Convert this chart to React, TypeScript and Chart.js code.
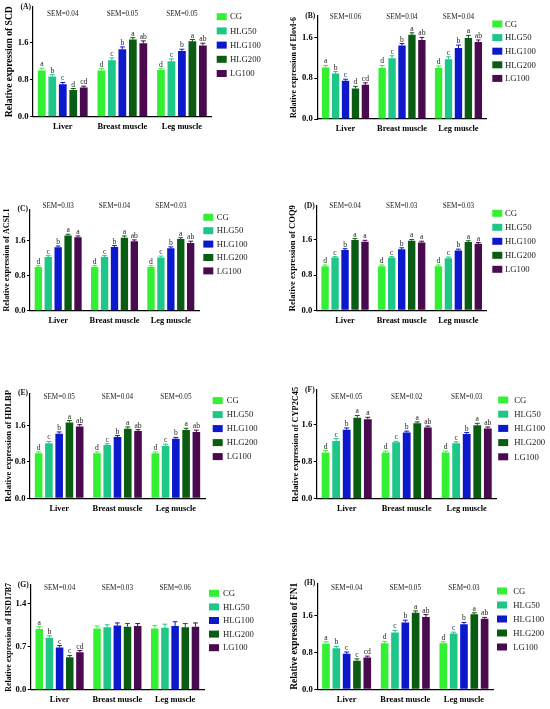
import React, { useEffect, useRef } from "react";
import { Chart, registerables } from "chart.js";

Chart.register(...registerables);

// ---------------- DATA ----------------
const categories = ["Liver", "Breast muscle", "Leg muscle"];
const groups = ["CG", "HLG50", "HLG100", "HLG200", "LG100"];

// rows = groups (CG, HLG50, HLG100, HLG200, LG100); columns = categories
const scdValues = [
  [1.0, 1.0, 1.01],
  [0.87, 1.22, 1.2],
  [0.7, 1.46, 1.42],
  [0.58, 1.67, 1.63],
  [0.63, 1.59, 1.54],
];
const scdErrors = [
  [0.05, 0.04, 0.03],
  [0.04, 0.05, 0.05],
  [0.04, 0.05, 0.04],
  [0.03, 0.04, 0.04],
  [0.03, 0.05, 0.05],
];
const scdLetters = [
  ["a", "d", "d"],
  ["b", "c", "c"],
  ["c", "b", "b"],
  ["d", "a", "a"],
  ["cd", "ab", "ab"],
];
const scdSem = ["0.04", "0.05", "0.05"];

const elovlValues = [
  [1.01, 1.0, 1.0],
  [0.89, 1.19, 1.17],
  [0.75, 1.44, 1.39],
  [0.6, 1.65, 1.59],
  [0.67, 1.55, 1.51],
];
const elovlErrors = [
  [0.04, 0.05, 0.04],
  [0.04, 0.05, 0.05],
  [0.03, 0.04, 0.06],
  [0.04, 0.04, 0.05],
  [0.04, 0.05, 0.04],
];
const elovlLetters = [
  ["a", "d", "d"],
  ["b", "c", "c"],
  ["c", "b", "b"],
  ["d", "a", "a"],
  ["cd", "ab", "ab"],
];
const elovlSem = ["0.06", "0.04", "0.04"];

const acslValues = [
  [1.0, 1.0, 1.0],
  [1.23, 1.23, 1.22],
  [1.45, 1.46, 1.43],
  [1.72, 1.67, 1.64],
  [1.68, 1.59, 1.55],
];
const acslErrors = [
  [0.03, 0.03, 0.03],
  [0.03, 0.03, 0.03],
  [0.03, 0.03, 0.03],
  [0.03, 0.04, 0.03],
  [0.03, 0.03, 0.04],
];
const acslLetters = [
  ["d", "d", "d"],
  ["c", "c", "c"],
  ["b", "b", "b"],
  ["a", "a", "a"],
  ["a", "ab", "ab"],
];
const acslSem = ["0.03", "0.04", "0.03"];

const coq9Values = [
  [1.0, 1.0, 1.0],
  [1.2, 1.2, 1.18],
  [1.37, 1.39, 1.36],
  [1.6, 1.58, 1.55],
  [1.56, 1.54, 1.51],
];
const coq9Errors = [
  [0.03, 0.03, 0.03],
  [0.02, 0.02, 0.03],
  [0.03, 0.03, 0.03],
  [0.03, 0.03, 0.03],
  [0.03, 0.03, 0.03],
];
const coq9Letters = [
  ["d", "d", "d"],
  ["c", "c", "c"],
  ["b", "b", "b"],
  ["a", "a", "a"],
  ["a", "a", "a"],
];
const coq9Sem = ["0.04", "0.03", "0.03"];

const hdlbpValues = [
  [0.99, 0.99, 0.99],
  [1.21, 1.17, 1.15],
  [1.42, 1.35, 1.31],
  [1.67, 1.53, 1.5],
  [1.58, 1.48, 1.46],
];
const hdlbpErrors = [
  [0.03, 0.03, 0.03],
  [0.04, 0.03, 0.04],
  [0.04, 0.03, 0.03],
  [0.04, 0.04, 0.04],
  [0.04, 0.03, 0.04],
];
const hdlbpLetters = [
  ["d", "d", "d"],
  ["c", "c", "c"],
  ["b", "b", "b"],
  ["a", "a", "a"],
  ["ab", "ab", "ab"],
];
const hdlbpSem = ["0.05", "0.04", "0.05"];

const cypValues = [
  [1.0, 1.0, 1.0],
  [1.25, 1.22, 1.2],
  [1.49, 1.43, 1.4],
  [1.75, 1.63, 1.59],
  [1.72, 1.54, 1.52],
];
const cypErrors = [
  [0.04, 0.03, 0.03],
  [0.05, 0.02, 0.03],
  [0.04, 0.03, 0.03],
  [0.05, 0.03, 0.04],
  [0.04, 0.03, 0.03],
];
const cypLetters = [
  ["d", "d", "d"],
  ["c", "c", "c"],
  ["b", "b", "b"],
  ["a", "a", "a"],
  ["a", "ab", "ab"],
];
const cypSem = ["0.05", "0.02", "0.03"];

const hsdValues = [
  [0.99, 1.0, 1.0],
  [0.85, 1.02, 1.01],
  [0.69, 1.05, 1.04],
  [0.53, 1.03, 1.02],
  [0.61, 1.04, 1.03],
];
const hsdErrors = [
  [0.04, 0.04, 0.05],
  [0.03, 0.04, 0.06],
  [0.03, 0.04, 0.07],
  [0.03, 0.05, 0.06],
  [0.03, 0.04, 0.06],
];
const hsdLetters = [
  ["a", "", ""],
  ["b", "", ""],
  ["c", "", ""],
  ["c", "", ""],
  ["cd", "", ""],
];
const hsdSem = ["0.04", "0.03", "0.06"];

const fn1Values = [
  [0.99, 1.0, 1.0],
  [0.89, 1.23, 1.21],
  [0.77, 1.45, 1.41],
  [0.62, 1.66, 1.63],
  [0.69, 1.57, 1.53],
];
const fn1Errors = [
  [0.04, 0.04, 0.03],
  [0.04, 0.05, 0.03],
  [0.04, 0.05, 0.04],
  [0.04, 0.04, 0.03],
  [0.03, 0.05, 0.03],
];
const fn1Letters = [
  ["a", "d", "d"],
  ["b", "c", "c"],
  ["c", "b", "b"],
  ["c", "a", "a"],
  ["cd", "ab", "ab"],
];
const fn1Sem = ["0.04", "0.05", "0.03"];

const ticks08 = [0, 0.8, 1.6];
const ticks07 = [0, 0.7, 1.4];

// ---------------- STYLE / LAYOUT ----------------
const groupColors = ["#33f033", "#1ec688", "#0c18cc", "#0a5c12", "#4a0a50"];
const FONT = "'Liberation Serif', 'Times New Roman', serif";
const ROW_TOP = [0, 170, 340, 525];
const ROW_H = [170, 170, 185, 184];
const COL_W = 275;

type Panel = {
  id: string;
  gene: string;
  values: number[][];
  errors: number[][];
  letters: string[][];
  sem: string[];
  ticks: number[];
  max: number;
  row: number;
  col: number;
  left: number;
  top: number;
  right: number;
  bottom: number;
  titleX: number;
  titleSize: number;
  semDY: number;
  legBoxDX: number;
  legTextDX: number;
  legDY: number;
  legGap: number;
};

const panels: Panel[] = [
  { id: "A", gene: "SCD", values: scdValues, errors: scdErrors, letters: scdLetters, sem: scdSem, ticks: ticks08, max: 2.38,
    row: 0, col: 0, left: 33, top: 6.7, right: 211.7, bottom: 116.7, titleX: 10, titleSize: 9.6,
    semDY: 7.3, legBoxDX: 5, legTextDX: 18.3, legDY: 10, legGap: 14.2 },
  { id: "B", gene: "Elovl-6", values: elovlValues, errors: elovlErrors, letters: elovlLetters, sem: elovlSem, ticks: ticks08, max: 2.02,
    row: 0, col: 1, left: 42.3, top: 16, right: 211.7, bottom: 119, titleX: 19, titleSize: 8,
    semDY: 1, legBoxDX: 5.6, legTextDX: 18.3, legDY: 8, legGap: 13.6 },
  { id: "C", gene: "ACSL1", values: acslValues, errors: acslErrors, letters: acslLetters, sem: acslSem, ticks: ticks08, max: 2.32,
    row: 1, col: 0, left: 30, top: 39.3, right: 199, bottom: 140.7, titleX: 7, titleSize: 8.1,
    semDY: -3, legBoxDX: 4.3, legTextDX: 17.7, legDY: 8, legGap: 13.4 },
  { id: "D", gene: "COQ9", values: coq9Values, errors: coq9Errors, letters: coq9Letters, sem: coq9Sem, ticks: ticks08, max: 2.37,
    row: 1, col: 1, left: 41.7, top: 36, right: 211.7, bottom: 140.3, titleX: 18, titleSize: 8.6,
    semDY: 0, legBoxDX: 5.6, legTextDX: 18.3, legDY: 7.3, legGap: 14 },
  { id: "E", gene: "HDLBP", values: hdlbpValues, errors: hdlbpErrors, letters: hdlbpLetters, sem: hdlbpSem, ticks: ticks08, max: 2.31,
    row: 2, col: 0, left: 30, top: 53.3, right: 205, bottom: 158.3, titleX: 9, titleSize: 8.6,
    semDY: 4, legBoxDX: 7.7, legTextDX: 21.7, legDY: 7.3, legGap: 14 },
  { id: "F", gene: "CYP2C45", values: cypValues, errors: cypErrors, letters: cypLetters, sem: cypSem, ticks: ticks08, max: 2.35,
    row: 2, col: 1, left: 41.7, top: 50, right: 221.7, bottom: 158.7, titleX: 21, titleSize: 8.3,
    semDY: 7.3, legBoxDX: 1.5, legTextDX: 17.5, legDY: 10, legGap: 14.2 },
  { id: "G", gene: "HSD17B7", values: hsdValues, errors: hsdErrors, letters: hsdLetters, sem: hsdSem, ticks: ticks07, max: 1.71,
    row: 3, col: 0, left: 30.7, top: 60, right: 204, bottom: 164.7, titleX: 9, titleSize: 7.9,
    semDY: 3.3, legBoxDX: 5, legTextDX: 19, legDY: 8.3, legGap: 13.6 },
  { id: "H", gene: "FN1", values: fn1Values, errors: fn1Errors, letters: fn1Letters, sem: fn1Sem, ticks: ticks08, max: 2.3,
    row: 3, col: 1, left: 42.3, top: 58.3, right: 218.3, bottom: 164.3, titleX: 20, titleSize: 9.4,
    semDY: 5, legBoxDX: 3.7, legTextDX: 20, legDY: 7.7, legGap: 14 },
];

function buildChart(canvas: HTMLCanvasElement, p: Panel) {
  const height = ROW_H[p.row];
  const padL = p.titleX - p.titleSize / 2;

  const decor = {
    id: "decor" + p.id,
    afterDatasetsDraw(chart: any) {
      const ctx = chart.ctx as CanvasRenderingContext2D;
      const ys = chart.scales.y;
      const xs = chart.scales.x;
      const area = chart.chartArea;
      ctx.save();
      // error bars + letters
      groups.forEach((_, gi) => {
        const meta = chart.getDatasetMeta(gi);
        meta.data.forEach((bar: any, ci: number) => {
          const v = p.values[gi][ci];
          const e = p.errors[gi][ci];
          const x = bar.x;
          const yv = ys.getPixelForValue(v);
          const ye = ys.getPixelForValue(v + e);
          const hw = bar.width * 0.32;
          ctx.strokeStyle = groupColors[gi];
          ctx.lineWidth = 1;
          ctx.beginPath();
          ctx.moveTo(x, yv);
          ctx.lineTo(x, ye);
          ctx.moveTo(x - hw, ye);
          ctx.lineTo(x + hw, ye);
          ctx.stroke();
          const letter = p.letters[gi][ci];
          if (letter) {
            ctx.fillStyle = "#222";
            ctx.font = `7.6px ${FONT}`;
            ctx.textAlign = "center";
            ctx.textBaseline = "alphabetic";
            ctx.fillText(letter, x, ye - 2);
          }
        });
      });
      // SEM labels
      ctx.fillStyle = "#222";
      ctx.font = `7.2px ${FONT}`;
      ctx.textAlign = "center";
      ctx.textBaseline = "middle";
      p.sem.forEach((s, ci) => {
        ctx.fillText("SEM=" + s, xs.getPixelForValue(ci), area.top + p.semDY);
      });
      // panel letter
      ctx.fillStyle = "#111";
      ctx.font = `bold 7.6px ${FONT}`;
      ctx.textAlign = "right";
      ctx.textBaseline = "middle";
      ctx.fillText("(" + p.id + ")", area.left - 2, area.top);
      // legend
      ctx.font = `8.7px ${FONT}`;
      ctx.textAlign = "left";
      groups.forEach((g, gi) => {
        const cy = area.top + p.legDY + gi * p.legGap;
        ctx.fillStyle = groupColors[gi];
        ctx.fillRect(area.right + p.legBoxDX, cy - 3.5, 10, 7);
        ctx.fillStyle = "#222";
        ctx.fillText(g, area.right + p.legTextDX, cy + 0.5);
      });
      ctx.restore();
    },
  };

  return new Chart(canvas, {
    type: "bar",
    data: {
      labels: categories,
      datasets: groups.map((g, gi) => ({
        label: g,
        data: p.values[gi],
        backgroundColor: groupColors[gi],
        borderWidth: 0,
        categoryPercentage: 0.88,
        barPercentage: 0.74,
      })),
    },
    options: {
      animation: false,
      responsive: false,
      maintainAspectRatio: false,
      events: [],
      layout: { padding: { left: padL, top: p.top, right: COL_W - p.right, bottom: 0 } },
      plugins: { legend: { display: false }, tooltip: { enabled: false } },
      scales: {
        x: {
          grid: { display: true, drawOnChartArea: false, drawTicks: false },
          border: { display: true, color: "#000", width: 1.2 },
          ticks: { color: "#000", padding: 5, font: { family: FONT, size: 8.4, weight: "bold" } },
          afterFit: (s: any) => {
            s.height = height - p.bottom;
          },
        },
        y: {
          min: 0,
          max: p.max,
          afterBuildTicks: (s: any) => {
            s.ticks = p.ticks.map((v) => ({ value: v }));
          },
          grid: { display: true, drawOnChartArea: false, drawTicks: true, tickLength: 3, color: "#000", lineWidth: 1 },
          border: { display: true, color: "#000", width: 1.2 },
          ticks: {
            color: "#000",
            padding: 1.5,
            font: { family: FONT, size: 8.6, weight: "bold" },
            callback: (v: any) => Number(v).toFixed(1),
          },
          title: {
            display: true,
            text: "Relative expression of " + p.gene,
            color: "#000",
            padding: 0,
            font: { family: FONT, size: p.titleSize, weight: "bold", lineHeight: 1 },
          },
          afterFit: (s: any) => {
            s.width = p.left - padL;
          },
        },
      },
    },
    plugins: [decor],
  } as any);
}

function PanelChart({ p }: { p: Panel }) {
  const ref = useRef<HTMLCanvasElement | null>(null);
  useEffect(() => {
    if (!ref.current) return;
    const chart = buildChart(ref.current, p);
    return () => chart.destroy();
  }, [p]);
  const h = ROW_H[p.row];
  return (
    <canvas
      ref={ref}
      width={COL_W}
      height={h}
      style={{ position: "absolute", left: p.col * COL_W, top: ROW_TOP[p.row], width: COL_W, height: h }}
    />
  );
}

export default function App() {
  return (
    <div style={{ position: "absolute", left: 0, top: 0, width: 550, height: 709, background: "#fff" }}>
      {panels.map((p) => (
        <PanelChart key={p.id} p={p} />
      ))}
    </div>
  );
}
